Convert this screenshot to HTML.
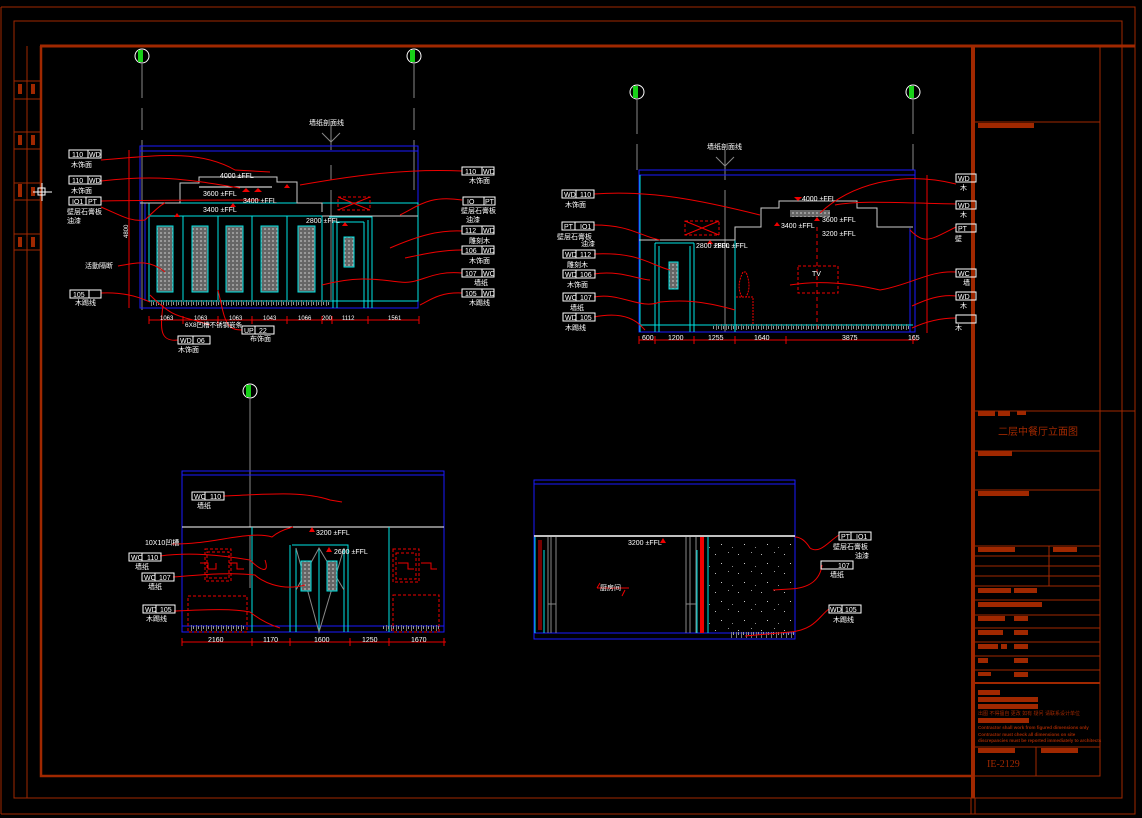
<!DOCTYPE html>
<html><head><meta charset="utf-8"><style>
html,body{margin:0;padding:0;background:#000;}
svg{display:block;}
text{font-family:"Liberation Sans","Noto Sans CJK SC",sans-serif;fill:#fff;font-size:7px;}
.f{fill:none;}
</style></head><body>
<svg width="1142" height="818" viewBox="0 0 1142 818" xmlns="http://www.w3.org/2000/svg">
<defs>
<pattern id="dots" width="23" height="19" patternUnits="userSpaceOnUse">
<rect x="2" y="3" width="1" height="1" fill="#bbb"/><rect x="15" y="1" width="1" height="1" fill="#999"/><rect x="8" y="12" width="1" height="1" fill="#ccc"/><rect x="19" y="15" width="1" height="1" fill="#888"/>
</pattern>
<pattern id="pan" width="4" height="4" patternUnits="userSpaceOnUse">
<rect width="4" height="4" fill="#666"/><rect x="0" y="0" width="2" height="2" fill="#999"/>
</pattern>
<pattern id="hat" width="5" height="6" patternUnits="userSpaceOnUse">
<rect x="1" y="0" width="1" height="6" fill="#777"/><rect x="3" y="2" width="1" height="3" fill="#999"/>
</pattern>
</defs>
<rect width="1142" height="818" fill="#000"/>
<g stroke="#a02800" fill="none">
<path d="M1,7 H1135 V814 H1" stroke-width="1"/>
<path d="M1,7 V814"/>
<rect x="14" y="21" width="1108" height="777"/>
<path d="M40,46 H1135" stroke-width="3"/>
<path d="M41,46 V776 H973" stroke-width="2.5"/>
<path d="M973,46 V798" stroke-width="4"/>
<path d="M971,798 V814 M975,798 V814"/>
<path d="M1100,46 V776 H975"/>
<path d="M27,46 V798"/>
<path d="M14,81 H40 M14,99 H40 M14,132 H40 M14,149 H40 M14,183 H40 M14,200 H40 M14,234 H40 M14,250 H40"/>
<path d="M975,122 H1100 M975,411 H1135 M975,451 H1100 M975,490 H1100 M975,546 H1100 M975,556 H1100 M975,566 H1100 M975,576 H1100 M975,586 H1100 M975,600 H1100 M975,615 H1100 M975,628 H1100 M975,642 H1100 M975,656 H1100 M975,670 H1100 M975,747 H1100 M1049,546 V586 M1036,747 V776"/>
<path d="M975,683 H1100" stroke-width="2"/>
</g>
<g fill="#a02800">
<rect x="18" y="84" width="4" height="10"/><rect x="31" y="84" width="4" height="10"/>
<rect x="18" y="135" width="4" height="10"/><rect x="31" y="135" width="4" height="10"/>
<rect x="18" y="184" width="4" height="13"/><rect x="31" y="187" width="4" height="9"/>
<rect x="18" y="237" width="4" height="10"/><rect x="31" y="237" width="4" height="10"/>
<rect x="978" y="123" width="56" height="5"/>
<rect x="978" y="411" width="17" height="5"/><rect x="998" y="411" width="12" height="5"/><rect x="1017" y="411" width="9" height="4"/>
<rect x="978" y="451" width="34" height="5"/>
<rect x="978" y="491" width="51" height="5"/>
<rect x="978" y="547" width="37" height="5"/><rect x="1053" y="547" width="24" height="5"/>
<rect x="978" y="588" width="33" height="5"/><rect x="1014" y="588" width="23" height="5"/>
<rect x="978" y="602" width="64" height="5"/>
<rect x="978" y="616" width="27" height="5"/><rect x="1014" y="616" width="14" height="5"/>
<rect x="978" y="630" width="25" height="5"/><rect x="1014" y="630" width="14" height="5"/>
<rect x="978" y="644" width="20" height="5"/><rect x="1001" y="644" width="6" height="5"/><rect x="1014" y="644" width="14" height="5"/>
<rect x="978" y="658" width="10" height="5"/><rect x="1014" y="658" width="14" height="5"/>
<rect x="978" y="672" width="13" height="4"/><rect x="1014" y="672" width="14" height="5"/>
<rect x="978" y="690" width="22" height="5"/><rect x="978" y="697" width="60" height="5"/><rect x="978" y="704" width="60" height="5"/>
<rect x="978" y="718" width="51" height="5"/>
<rect x="978" y="748" width="37" height="5"/><rect x="1041" y="748" width="37" height="5"/>
</g>
<g style="fill:#a02800">
<text x="998" y="435" style="fill:#a02800;font-size:10px">二层中餐厅立面图</text>
<text x="978" y="715" style="fill:#a02800;font-size:5px">出图 不得擅自 更改 如有 疑问 请联系设计单位</text>
<text x="978" y="729" style="fill:#a02800;font-size:4.5px;font-weight:bold">Contractor shall work from figured dimensions only</text>
<text x="978" y="736" style="fill:#a02800;font-size:4.5px;font-weight:bold">Contractor must check all dimensions on site</text>
<text x="978" y="742" style="fill:#a02800;font-size:4.5px;font-weight:bold">discrepancies must be reported immediately to architects</text>
<text x="987" y="767" style="fill:#a02800;font-size:10px;font-family:'Liberation Serif',serif">IE-2129</text>
</g>
<path d="M33,192 H52 M42,183 V201" stroke="#fff" stroke-width="1"/><rect x="38" y="188" width="7" height="7" stroke="#fff" fill="none"/>

<g stroke="#fff" stroke-width="1">
<circle cx="142" cy="56" r="7" fill="#000"/><circle cx="414" cy="56" r="7" fill="#000"/>
<circle cx="637" cy="92" r="7" fill="#000"/><circle cx="913" cy="92" r="7" fill="#000"/>
<circle cx="250" cy="391" r="7" fill="#000"/>
</g>
<g fill="#18d018"><rect x="138" y="50" width="5" height="12"/><rect x="410" y="50" width="5" height="12"/><rect x="633" y="86" width="5" height="12"/><rect x="909" y="86" width="5" height="12"/><rect x="246" y="385" width="5" height="12"/></g>
<g stroke="#888" stroke-width="1" fill="none">
<path d="M142,64 V98 M142,108 V130 M142,140 V310"/>
<path d="M414,64 V98 M414,108 V130 M414,140 V190"/>
<path d="M637,100 V134 M637,144 V170"/>
<path d="M913,100 V134 M913,144 V170"/>
<path d="M250,399 V527"/>
<path d="M331,125 V150 M331,165 V180 M331,190 V300 M322,133 L331,142 L340,133"/>
<path d="M725,150 V180 M725,190 V332 M716,157 L725,166 L734,157"/>
</g>
<text x="309" y="125">墙纸剖面线</text>
<text x="707" y="149">墙纸剖面线</text>

<g fill="none">
<rect x="140" y="146" width="278" height="162" stroke="#1a1aff"/>
<path d="M140,151 H418" stroke="#1a1aff"/>
<path d="M145,203 V301 M149,210 V301" stroke="#1a1aff"/>
<rect x="149" y="203" width="269" height="98" stroke="#00e5e5"/>
<path d="M149,216 H322 M183,216 V300 M218,216 V300 M252,216 V300 M287,216 V300 M322,216 V300" stroke="#00e5e5"/>
<path d="M333,222 V308 M337,222 V308 M364,222 V308 M368,220 V308 M333,222 H364 M329,217 H372 V308" stroke="#00e5e5"/>
<path d="M140,203 H180 V183 H199 V177 H277 V182 H297 V203 H322 V212 M322,216 H418" stroke="#ccc"/>
<path d="M199,187 H272" stroke="#fff"/>
<rect x="338" y="197" width="32" height="13" stroke="#e00" stroke-dasharray="3,2"/>
<path d="M338,197 L370,210 M370,197 L338,210" stroke="#e00"/>
</g>
<g fill="url(#pan)" stroke="#00e5e5"><rect x="157" y="226" width="16" height="66"/><rect x="192" y="226" width="16" height="66"/><rect x="226" y="226" width="17" height="66"/><rect x="261" y="226" width="17" height="66"/><rect x="298" y="226" width="17" height="66"/><rect x="344" y="237" width="10" height="30"/></g>
<rect x="149" y="300" width="180" height="6" fill="url(#hat)"/>
<g fill="none" stroke="#e00">
<path d="M129,150 V308 M149,320 H419 M149,316 V324 M183,316 V324 M218,316 V324 M252,316 V324 M287,316 V324 M322,316 V324 M332,316 V324 M368,316 V324 M419,316 V324"/>
<path d="M101,160 C160,155 200,150 235,170 L270,172"/>
<path d="M101,181 C160,174 190,180 240,188"/>
<path d="M101,201 C170,200 220,200 260,200"/>
<path d="M101,207 C120,215 130,222 145,220 C150,215 160,205 165,203"/>
<path d="M118,266 C140,262 150,260 165,272"/>
<path d="M101,293 C120,292 135,295 150,302"/>
<path d="M462,171 C400,168 340,178 300,185"/>
<path d="M462,200 C430,195 420,205 400,215"/>
<path d="M462,231 C440,230 420,235 390,248"/>
<path d="M462,250 C440,250 420,255 405,258"/>
<path d="M462,273 C430,270 420,285 400,282 C380,280 360,275 322,285"/>
<path d="M462,293 C440,292 430,300 420,305"/>
<path d="M178,340 C160,342 160,330 163,305"/>
<path d="M242,330 C225,330 225,320 218,290"/>
<path d="M210,325 C180,315 175,320 150,295"/>
</g>
<g fill="#e00"><path d="M246,188 l4,4 h-8z"/><path d="M258,188 l4,4 h-8z"/><path d="M233,203 l3,4 h-6z"/><path d="M177,213 l3,4 h-6z"/><path d="M345,222 l3,4 h-6z"/><path d="M287,184 l3,4 h-6z"/></g>
<text x="220" y="178">4000 ±FFL</text>
<text x="203" y="196">3600 ±FFL</text>
<text x="243" y="203">3400 ±FFL</text>
<text x="203" y="212">3400 ±FFL</text>
<text x="306" y="223">2800 ±FFL</text>
<text x="160" y="320" style="font-size:6px">1063</text><text x="194" y="320" style="font-size:6px">1063</text><text x="229" y="320" style="font-size:6px">1063</text><text x="263" y="320" style="font-size:6px">1043</text><text x="298" y="320" style="font-size:6px">1066</text><text x="322" y="320" style="font-size:6px">200</text><text x="342" y="320" style="font-size:6px">1112</text><text x="388" y="320" style="font-size:6px">1561</text>
<text x="185" y="327" style="font-size:6.5px">6X8凹槽不锈钢嵌条</text>
<text x="118" y="232" style="font-size:6px" transform="rotate(-90 126 230)">4800</text>
<g fill="none" stroke="#fff">
<rect x="69" y="150" width="32" height="8"/><rect x="69" y="176" width="32" height="8"/><rect x="69" y="197" width="32" height="8"/><rect x="70" y="290" width="31" height="8"/>
<rect x="462" y="167" width="32" height="8"/><rect x="463" y="197" width="32" height="8"/><rect x="462" y="226" width="32" height="8"/><rect x="462" y="246" width="32" height="8"/><rect x="462" y="269" width="32" height="8"/><rect x="462" y="289" width="32" height="8"/>
<rect x="178" y="336" width="32" height="8"/><rect x="242" y="326" width="32" height="8"/>
<path d="M88,150 V158 M88,176 V184 M86,197 V205 M89,290 V298 M482,167 V175 M484,197 V205 M482,226 V234 M482,246 V254 M482,269 V277 M482,289 V297 M193,336 V344 M255,326 V334"/>
</g>
<g style="font-size:6.5px">
<text x="72" y="157">110</text><text x="89" y="157">WD</text><text x="72" y="183">110</text><text x="89" y="183">WD</text><text x="72" y="204">IO1</text><text x="88" y="204">PT</text><text x="73" y="297">105</text>
<text x="465" y="174">110</text><text x="483" y="174">WD</text><text x="467" y="204">IO</text><text x="485" y="204">PT</text><text x="465" y="233">112</text><text x="483" y="233">WD</text><text x="465" y="253">106</text><text x="483" y="253">WD</text><text x="465" y="276">107</text><text x="483" y="276">WC</text><text x="465" y="296">105</text><text x="483" y="296">WD</text>
<text x="180" y="343">WD</text><text x="197" y="343">06</text><text x="244" y="333">UP</text><text x="259" y="333">22</text>
</g>
<text x="71" y="167">木饰面</text><text x="71" y="193">木饰面</text><text x="67" y="214">壁层石膏板</text><text x="67" y="223">油漆</text><text x="85" y="268">活動隔断</text><text x="75" y="305">木踢线</text>
<text x="469" y="183">木饰面</text><text x="461" y="213">壁层石膏板</text><text x="466" y="222">油漆</text><text x="469" y="243">雕刻木</text><text x="469" y="263">木饰面</text><text x="474" y="285">墙纸</text><text x="469" y="305">木踢线</text>
<text x="178" y="352">木饰面</text><text x="250" y="341">布饰面</text>

<g fill="none">
<rect x="639" y="170" width="276" height="162" stroke="#1a1aff"/>
<path d="M639,175 H915 M910,228 V332" stroke="#1a1aff"/>
<path d="M640,175 V332 M735,240 V332 M655,243 V332 M659,246 V332 M690,246 V332 M694,243 V332 M655,243 H694 M640,325 H913" stroke="#00e5e5"/>
<path d="M639,240 H735 V227 H761 V208 H779 V201 H857 V208 H877 V227 H913" stroke="#ccc"/>
<rect x="685" y="221" width="34" height="14" stroke="#e00" stroke-dasharray="3,2"/>
<path d="M685,221 L719,235 M719,221 L685,235" stroke="#e00"/>
<rect x="798" y="266" width="40" height="27" stroke="#e00" stroke-dasharray="3,2"/>
<path d="M817,227 V332" stroke="#e00" stroke-dasharray="4,3"/>
<path d="M736,297 H753 V325 M742,297 C738,290 738,282 743,272 H746 C750,282 750,290 746,297" stroke="#e00" stroke-dasharray="2,1"/>
</g>
<rect x="669" y="262" width="9" height="27" fill="url(#pan)" stroke="#00e5e5"/>
<rect x="790" y="210" width="40" height="7" fill="url(#pan)"/>
<rect x="712" y="324" width="198" height="6" fill="url(#hat)"/>
<g fill="none" stroke="#e00">
<path d="M639,340 H918 M639,336 V344 M655,336 V344 M694,336 V344 M735,336 V344 M786,336 V344 M913,336 V344 M927,175 V333"/>
<path d="M594,194 C650,190 700,200 760,215"/>
<path d="M594,225 C630,225 640,236 660,240"/>
<path d="M594,254 C640,252 650,265 670,270"/>
<path d="M594,274 C620,270 640,280 650,280"/>
<path d="M594,297 C620,292 640,310 660,302 C680,300 700,300 735,310"/>
<path d="M594,317 C630,310 640,325 645,330"/>
<path d="M956,184 C900,170 850,185 820,213"/>
<path d="M956,204 C900,203 860,200 835,205"/>
<path d="M956,227 C930,240 925,245 910,230"/>
<path d="M956,272 C930,270 910,285 880,290 C850,283 820,280 790,285"/>
<path d="M956,296 C940,294 925,300 912,306"/>
<path d="M956,318 C940,318 925,322 912,328"/>
</g>
<g fill="#e00"><path d="M798,197 l4,4 h-8z" transform="rotate(180 798 199)"/><path d="M817,217 l3,4 h-6z"/><path d="M777,222 l3,4 h-6z"/><path d="M710,240 l3,4 h-6z"/></g>
<text x="802" y="201">4000 ±FFL</text><text x="822" y="222">3600 ±FFL</text><text x="781" y="228">3400 ±FFL</text><text x="822" y="236">3200 ±FFL</text><text x="696" y="248">2800 ±FFL</text><text x="714" y="248">2800 ±FFL</text>
<text x="812" y="276">TV</text>
<g style="font-size:6px"><text x="642" y="340">600</text><text x="668" y="340">1200</text><text x="708" y="340">1255</text><text x="754" y="340">1640</text><text x="842" y="340">3875</text><text x="908" y="340">165</text></g>
<g fill="none" stroke="#fff">
<rect x="562" y="190" width="32" height="8"/><rect x="562" y="222" width="32" height="8"/><rect x="563" y="250" width="32" height="8"/><rect x="563" y="270" width="32" height="8"/><rect x="563" y="293" width="32" height="8"/><rect x="563" y="313" width="32" height="8"/>
<path d="M576,190 V198 M575,222 V230 M576,250 V258 M576,270 V278 M576,293 V301 M576,313 V321"/>
<rect x="956" y="174" width="20" height="8"/><rect x="956" y="201" width="20" height="8"/><rect x="956" y="224" width="20" height="8"/><rect x="956" y="269" width="20" height="8"/><rect x="956" y="292" width="20" height="8"/><rect x="956" y="315" width="20" height="8"/>
</g>
<g style="font-size:6.5px">
<text x="564" y="197">WD</text><text x="580" y="197">110</text><text x="564" y="229">PT</text><text x="580" y="229">IO1</text><text x="565" y="257">WD</text><text x="580" y="257">112</text><text x="565" y="277">WD</text><text x="580" y="277">106</text><text x="565" y="300">WC</text><text x="580" y="300">107</text><text x="565" y="320">WD</text><text x="580" y="320">105</text>
<text x="958" y="181">WD</text><text x="958" y="208">WD</text><text x="958" y="231">PT</text><text x="958" y="276">WC</text><text x="958" y="299">WD</text>
</g>
<text x="565" y="207">木饰面</text><text x="557" y="239">壁层石膏板</text><text x="581" y="246">油漆</text><text x="567" y="267">雕刻木</text><text x="567" y="287">木饰面</text><text x="570" y="310">墙纸</text><text x="565" y="330">木踢线</text>
<text x="960" y="190">木</text><text x="960" y="217">木</text><text x="955" y="241">壁</text><text x="963" y="285">墙</text><text x="960" y="308">木</text><text x="955" y="330">木</text>

<g fill="none">
<rect x="182" y="471" width="262" height="161" stroke="#1a1aff"/>
<path d="M182,475 H444 M182,626 H444" stroke="#1a1aff"/>
<path d="M182,527 H444" stroke="#fff"/>
<path d="M252,527 V632 M389,527 V632 M290,545 V632 M292,545 H348 V632 M296,548 V632 M344,548 V632 M319,548 V632" stroke="#00e5e5"/>
<path d="M296,548 L319,632 L344,548 M296,590 L319,548 L344,590" stroke="#888"/>
<path d="M250,536 V588" stroke="#888"/>
<g stroke="#e00" stroke-dasharray="3,2">
<rect x="205" y="549" width="26" height="32"/><rect x="207" y="552" width="22" height="26"/>
<rect x="393" y="549" width="26" height="33"/><rect x="396" y="553" width="20" height="26"/>
<rect x="188" y="596" width="59" height="36"/><rect x="393" y="595" width="46" height="37"/>
</g>
</g>
<rect x="301" y="561" width="10" height="30" fill="url(#pan)" stroke="#00e5e5"/><rect x="327" y="561" width="10" height="30" fill="url(#pan)" stroke="#00e5e5"/>
<rect x="190" y="625" width="55" height="6" fill="url(#hat)"/><rect x="383" y="625" width="58" height="6" fill="url(#hat)"/>
<g fill="none" stroke="#e00">
<path d="M182,642 H446 M182,638 V646 M252,638 V646 M290,638 V646 M350,638 V646 M389,638 V646 M444,638 V646"/>
<path d="M223,496 C260,495 300,490 330,500 L342,502"/>
<path d="M172,544 C210,545 250,530 272,537 C280,530 290,528 293,527"/>
<path d="M160,556 C190,552 220,555 250,560 C260,570 270,575 265,560"/>
<path d="M173,577 C200,575 230,572 255,575 C260,580 280,592 305,585"/>
<path d="M174,611 C200,610 230,608 250,612 C260,620 270,625 280,628"/>
<path d="M200,563 h8 v6 h8 v-6 M229,563 h8 v6 h7 M398,563 h10 v6 h6 M421,563 h10 v6 h6"/>
</g>
<g fill="#e00"><path d="M312,527 l3,5 h-6z"/><path d="M329,547 l3,5 h-6z"/></g>
<text x="316" y="535">3200 ±FFL</text><text x="334" y="554">2600 ±FFL</text>
<g style="font-size:6px"><text x="208" y="642">2160</text><text x="263" y="642">1170</text><text x="314" y="642">1600</text><text x="362" y="642">1250</text><text x="411" y="642">1670</text></g>
<g fill="none" stroke="#fff">
<rect x="192" y="492" width="32" height="8"/><rect x="129" y="553" width="32" height="8"/><rect x="142" y="573" width="32" height="8"/><rect x="143" y="605" width="32" height="8"/>
<path d="M205,492 V500 M142,553 V561 M155,573 V581 M156,605 V613"/>
</g>
<g style="font-size:6.5px"><text x="194" y="499">WC</text><text x="210" y="499">110</text><text x="131" y="560">WC</text><text x="147" y="560">110</text><text x="144" y="580">WC</text><text x="159" y="580">107</text><text x="145" y="612">WD</text><text x="160" y="612">105</text></g>
<text x="197" y="508">墙纸</text><text x="145" y="545">10X10凹槽</text><text x="135" y="569">墙纸</text><text x="148" y="589">墙纸</text><text x="146" y="621">木踢线</text>

<g fill="none">
<rect x="534" y="480" width="261" height="159" stroke="#1a1aff"/>
<path d="M534,484 H795 M534,633 H795" stroke="#1a1aff"/>
<path d="M534,536 H795" stroke="#fff" stroke-width="1.5"/>
</g>
<rect x="709" y="537" width="86" height="96" fill="url(#dots)"/>
<g fill="none" stroke="#888"><path d="M548,537 V633 M551,537 V633 M556,537 V633 M686,537 V633 M690,537 V633 M696,537 V633 M548,604 H556 M686,604 H696"/></g>
<g fill="none" stroke="#00e5e5"><path d="M535,537 V633 M544,550 V633 M697,550 V633 M708,537 V633"/></g>
<path d="M539,540 V630 M541,540 V630" stroke="#e00"/>
<rect x="700" y="537" width="4" height="96" fill="#e00"/>
<rect x="730" y="632" width="65" height="6" fill="url(#hat)"/>
<g fill="none" stroke="#e00">
<path d="M839,535 C830,540 820,555 810,548 C805,540 800,537 795,537"/>
<path d="M822,565 C820,580 810,588 790,589 L773,590"/>
<path d="M829,609 C820,615 815,630 790,632 L745,636"/>
<path d="M597,588 H629 M597,588 l3,-5 M625,590 l-3,6"/>
</g>
<path d="M663,538 l3,5 h-6z" fill="#e00"/>
<text x="628" y="545">3200 ±FFL</text>
<text x="600" y="590">厨房间</text>
<g fill="none" stroke="#fff"><rect x="839" y="532" width="32" height="8"/><rect x="821" y="561" width="32" height="8"/><rect x="829" y="605" width="32" height="8"/><path d="M851,532 V540 M842,605 V613"/></g>
<g style="font-size:6.5px"><text x="841" y="539">PT</text><text x="856" y="539">IO1</text><text x="838" y="568">107</text><text x="830" y="612">WD</text><text x="845" y="612">105</text></g>
<text x="833" y="549">壁层石膏板</text><text x="855" y="558">油漆</text><text x="830" y="577">墙纸</text><text x="833" y="622">木踢线</text>
</svg>
</body></html>
